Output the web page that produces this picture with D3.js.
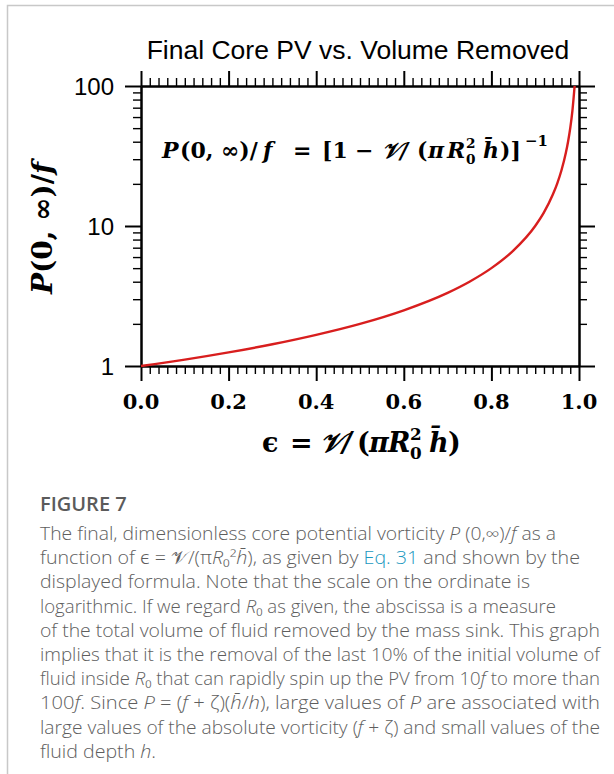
<!DOCTYPE html>
<html lang="en">
<head>
<meta charset="utf-8">
<title>Final Core PV vs. Volume Removed</title>
<script src="https://cdn.jsdelivr.net/npm/d3@7"></script>
<style>
  body { margin: 0; background: #fff; }
  svg { display: block; }
</style>
</head>
<body>
<div id="chart"></div>
<script>
// values: P(0,inf)/f against epsilon
const eps = [0, 0.1, 0.2, 0.3, 0.4, 0.5, 0.6, 0.7, 0.75, 0.8, 0.85, 0.9, 0.92, 0.94, 0.95, 0.96, 0.97, 0.975, 0.98, 0.985, 0.99];
const pv  = [1, 1.11, 1.25, 1.43, 1.67, 2, 2.5, 3.33, 4, 5, 6.67, 10, 12.5, 16.7, 20, 25, 33.3, 40, 50, 66.7, 100];

const xMajor = [0, 0.2, 0.4, 0.6, 0.8, 1.0];
const xMinor = [0.02,0.04,0.06,0.08,0.1,0.12,0.14,0.16,0.18,0.22,0.24,0.26,0.28,0.3,0.32,0.34,0.36,0.38,
  0.42,0.44,0.46,0.48,0.5,0.52,0.54,0.56,0.58,0.62,0.64,0.66,0.68,0.7,0.72,0.74,0.76,0.78,
  0.82,0.84,0.86,0.88,0.9,0.92,0.94,0.96,0.98];
const yMajor = [1, 10, 100];
const yMinor = [2,3,4,5,6,7,8,9,20,30,40,50,60,70,80,90];

const title = "Final Core PV vs. Volume Removed";

// caption lines, *..* = italic, {..} = link colour
const caption = [
  "The final, dimensionless core potential vorticity *P* (0,∞)/*f* as a",
  "function of ϵ = 𝒱/(π*R*₀²*h̄*), as given by {Eq. 31} and shown by the",
  "displayed formula. Note that the scale on the ordinate is",
  "logarithmic. If we regard *R*₀ as given, the abscissa is a measure",
  "of the total volume of fluid removed by the mass sink. This graph",
  "implies that it is the removal of the last 10% of the initial volume of",
  "fluid inside *R*₀ that can rapidly spin up the PV from 10*f* to more than",
  "100*f*. Since *P* = (*f* + ζ)(*h̄*/*h*), large values of *P* are associated with",
  "large values of the absolute vorticity (*f* + ζ) and small values of the",
  "fluid depth *h*."
];
const captionWidths = [516, 540, 490, 516, 560, 560, 560, 560, 560, 116];

const W = 614, H = 774;
const svg = d3.select("#chart").append("svg").attr("width", W).attr("height", H);

// page frame
svg.append("path").attr("d", "M7.5,774V5.5H614").attr("fill", "none").attr("stroke", "#c8c8c8").attr("stroke-width", 1.5);

const m = {left: 141, right: 579, top: 86, bottom: 366};
const x = d3.scaleLinear().domain([0, 1]).range([m.left, m.right]);
const y = d3.scaleLog().domain([1, 100]).range([m.bottom, m.top]);

function styleAxis(g, w) {
  g.selectAll("path.domain").attr("stroke", "#000").attr("stroke-width", 2);
  g.selectAll(".tick line").attr("stroke", "#000").attr("stroke-width", w);
}

// x axes: bottom and top, minor + major
[[d3.axisBottom, m.bottom], [d3.axisTop, m.top]].forEach(([ax, pos]) => {
  svg.append("g").attr("transform", `translate(0,${pos})`)
    .call(ax(x).tickValues(xMinor).tickSize(8).tickSizeOuter(0).tickFormat(""))
    .call(g => styleAxis(g, 1.4));
  svg.append("g").attr("transform", `translate(0,${pos})`)
    .call(ax(x).tickValues(xMajor).tickSize(15).tickSizeOuter(0).tickFormat(""))
    .call(g => styleAxis(g, 2));
});

// y axes: left and right
[[d3.axisLeft, m.left], [d3.axisRight, m.right]].forEach(([ax, pos]) => {
  svg.append("g").attr("transform", `translate(${pos},0)`)
    .call(ax(y).tickValues(yMinor).tickSize(8).tickSizeOuter(0).tickFormat(""))
    .call(g => styleAxis(g, 1.4));
  svg.append("g").attr("transform", `translate(${pos},0)`)
    .call(ax(y).tickValues(yMajor).tickSize(16).tickSizeOuter(0).tickFormat(""))
    .call(g => styleAxis(g, 2));
});

// tick labels
svg.append("g").selectAll("text").data(yMajor).join("text")
  .attr("x", m.left - 27).attr("y", d => y(d)).attr("dy", "0.36em")
  .attr("text-anchor", "end")
  .attr("font-family", "Liberation Sans, Arial, sans-serif").attr("font-size", 24)
  .text(d => d);

svg.append("g").selectAll("text").data(xMajor).join("text")
  .attr("x", d => x(d)).attr("y", 409)
  .attr("text-anchor", "middle")
  .attr("font-family", "DejaVu Serif, serif").attr("font-weight", "bold").attr("font-size", 21)
  .text(d => d3.format(".1f")(d));

// curve
svg.append("path")
  .datum(eps.map((e, i) => [e, pv[i]]))
  .attr("fill", "none").attr("stroke", "#d81e1e").attr("stroke-width", 2.4)
  .attr("d", d3.line().x(d => x(d[0])).y(d => y(d[1])).curve(d3.curveMonotoneX));

// title
svg.append("text").attr("x", 358).attr("y", 59).attr("text-anchor", "middle")
  .attr("font-family", "Liberation Sans, Arial, sans-serif").attr("font-size", 26.5)
  .text(title);

const mathFont = "DejaVu Serif, serif";

// math pieces: [text, x offset, y offset, size scale, italic]
function mathText(x0, y0, size, pieces) {
  const g = svg.append("g").attr("font-family", mathFont).attr("font-weight", "bold");
  pieces.forEach(([s, dx, dy, k, it]) => {
    g.append("text").attr("x", x0 + dx).attr("y", y0 + dy)
      .attr("font-size", size * k).attr("font-style", it ? "italic" : "normal")
      .text(s);
  });
  return g;
}

// in-plot formula
mathText(162, 158, 22, [
  ["P", 0, 0, 1, true], ["(0, ∞)/", 18, 0, 1, false], ["f", 101, 0, 1, true],
  ["=", 131, 0, 1, false], ["[1", 160, 0, 1, false], ["−", 193, 0, 1, false],
  ["𝒱/", 220, 0, 1, true], ["(", 255, 0, 1, false], ["π", 266, 0, 1, true], ["R", 285, 0, 1, true],
  ["2", 304, -10, 0.62, false], ["0", 304, 6, 0.62, false],
  ["h̄", 321, 0, 1, true], [")]", 338, 0, 1, false], ["−1", 363, -12, 0.68, false]
]);

// x label
mathText(262, 452, 27, [
  ["ϵ", 0, 0, 1, false], ["=", 28, 0, 1, false], ["𝒱/", 58, 0, 1, true],
  ["(", 95, 0, 1, false], ["π", 107, 0, 1, true], ["R", 126, 0, 1, true],
  ["2", 148, -12, 0.62, false], ["0", 148, 7, 0.62, false],
  ["h̄", 167, 0, 1, true], [")", 186, 0, 1, false]
]);

// y label
const yl = svg.append("text").attr("transform", "translate(52,228) rotate(-90)")
  .attr("text-anchor", "middle")
  .attr("font-family", mathFont).attr("font-weight", "bold").attr("font-size", 28);
yl.append("tspan").attr("font-style", "italic").text("P");
yl.append("tspan").text("(0, ∞)/");
yl.append("tspan").attr("font-style", "italic").text("f");

// caption
const capFont = "Open Sans, Noto Sans, sans-serif";
svg.append("text").attr("x", 40).attr("y", 511)
  .attr("font-family", capFont).attr("font-weight", 600).attr("font-size", 20)
  .attr("fill", "#5b5b5b").text("FIGURE 7");

caption.forEach((line, i) => {
  const t = svg.append("text").attr("x", 40).attr("y", 540 + i * 24.2)
    .attr("font-family", capFont).attr("font-weight", 300).attr("font-size", 17.5).attr("fill", "#5e5e5e")
    .attr("textLength", captionWidths[i]).attr("lengthAdjust", "spacingAndGlyphs");
  line.split(/(\*[^*]+\*|\{[^}]+\})/).filter(s => s.length).forEach(s => {
    if (s[0] === "*") t.append("tspan").attr("font-style", "italic").text(s.slice(1, -1));
    else if (s[0] === "{") t.append("tspan").attr("fill", "#1b98c0").text(s.slice(1, -1));
    else t.append("tspan").text(s);
  });
});
</script>
</body>
</html>
